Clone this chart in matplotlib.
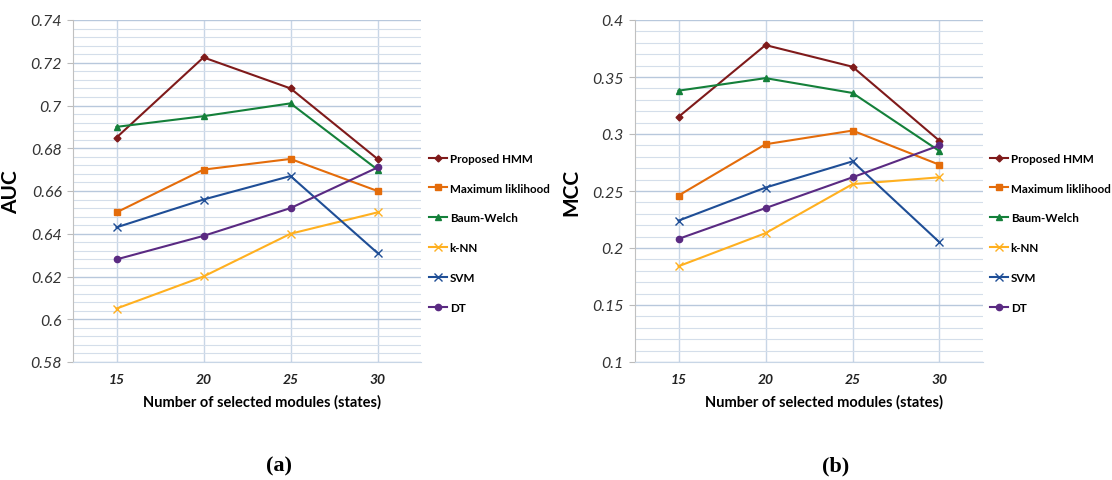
import matplotlib
matplotlib.use("Agg")
import matplotlib.pyplot as plt
from matplotlib.ticker import MultipleLocator

states = [15, 20, 25, 30]
methods = ["Proposed HMM", "Maximum liklihood", "Baum-Welch", "k-NN", "SVM", "DT"]

auc_hmm = [0.685, 0.7225, 0.708, 0.675]
auc_ml = [0.650, 0.670, 0.675, 0.660]
auc_bw = [0.690, 0.695, 0.701, 0.670]
auc_knn = [0.605, 0.620, 0.640, 0.650]
auc_svm = [0.643, 0.656, 0.667, 0.631]
auc_dt = [0.628, 0.639, 0.652, 0.671]

mcc_hmm = [0.315, 0.378, 0.359, 0.294]
mcc_ml = [0.246, 0.291, 0.303, 0.273]
mcc_bw = [0.338, 0.349, 0.336, 0.285]
mcc_knn = [0.184, 0.213, 0.256, 0.262]
mcc_svm = [0.224, 0.253, 0.276, 0.205]
mcc_dt = [0.208, 0.235, 0.262, 0.290]

colors = ["#7F1A1A", "#E46C0A", "#14803A", "#FFB020", "#1F4E96", "#5A2A82"]
markers = ["D", "s", "^", "x", "x", "o"]
msizes = [3.5, 4, 4.5, 6, 6, 4.5]

plt.rcParams['font.family'] = ['Lato', 'DejaVu Sans']

fig = plt.figure(figsize=(11.12, 4.81), dpi=100)


def draw(rect, series, ylim, ystep, yminor, ylabel, ylab_x, label_x, tag, tag_x, leg_x):
    ax = fig.add_axes(rect)
    x = list(range(len(states)))
    for vals, name, c, m, ms in zip(series, methods, colors, markers, msizes):
        ax.plot(x, vals, color=c, marker=m, markersize=ms, linewidth=1.5,
                label=name, markeredgewidth=1.0, zorder=3)
    ax.set_xlim(-0.5, len(states) - 0.5)
    ax.set_ylim(*ylim)
    ax.set_xticks(x)
    ax.set_xticklabels([str(s) for s in states], fontstyle='italic',
                       fontweight='bold', fontsize=10, color='#222222')
    ax.yaxis.set_major_locator(MultipleLocator(ystep))
    ax.yaxis.set_minor_locator(MultipleLocator(yminor))
    ax.yaxis.set_major_formatter(plt.FuncFormatter(lambda v, p: ('%g' % round(v, 3))))
    for lab in ax.get_yticklabels():
        lab.set_fontstyle('italic')
        lab.set_fontsize(11.5)
        lab.set_color('#333333')
    ax.grid(True, which='major', axis='y', color='#B8C8DC', linewidth=1.0)
    ax.grid(True, which='minor', axis='y', color='#D4DEEA', linewidth=0.8)
    ax.grid(True, which='major', axis='x', color='#C8D6E6', linewidth=1.0)
    ax.set_axisbelow(True)
    ax.tick_params(axis='x', length=0, pad=8)
    ax.tick_params(axis='y', which='major', length=4, color='#BBBBBB', pad=4)
    ax.tick_params(axis='y', which='minor', length=0)
    for s in ['top', 'right']:
        ax.spines[s].set_visible(False)
    ax.spines['left'].set_color('#C0C0C0')
    ax.spines['bottom'].set_color('#C8D6E6')
    ax.set_ylabel(ylabel, fontsize=15, fontweight='bold')
    ax.yaxis.set_label_coords(ylab_x, 0.5)
    fig.text(label_x, 1 - 402 / 481, "Number of selected modules (states)",
             ha='center', va='center', fontsize=10.5, fontweight='bold')
    fig.text(tag_x, 1 - 466 / 481, tag, ha='center', va='center', fontsize=16,
             fontweight='bold', family='Liberation Serif')
    fig.legend(*ax.get_legend_handles_labels(), loc='upper left',
               bbox_to_anchor=(leg_x, 1 - 149 / 481), frameon=False,
               prop={'weight': 'bold', 'size': 8.4}, handlelength=1.6,
               handletextpad=0.2, labelspacing=1.62, borderaxespad=0)
    return ax


draw([73 / 1112, 1 - 363 / 481, 348 / 1112, 342 / 481],
     [auc_hmm, auc_ml, auc_bw, auc_knn, auc_svm, auc_dt],
     (0.58, 0.74), 0.02, 0.004, "AUC", -0.15, 262 / 1112, "(a)", 279 / 1112, 424 / 1112)
draw([635 / 1112, 1 - 363 / 481, 348 / 1112, 342 / 481],
     [mcc_hmm, mcc_ml, mcc_bw, mcc_knn, mcc_svm, mcc_dt],
     (0.1, 0.4), 0.05, 0.01, "MCC", -0.155, 824 / 1112, "(b)", 836 / 1112, 985 / 1112)

fig.savefig("out.png", dpi=100)
